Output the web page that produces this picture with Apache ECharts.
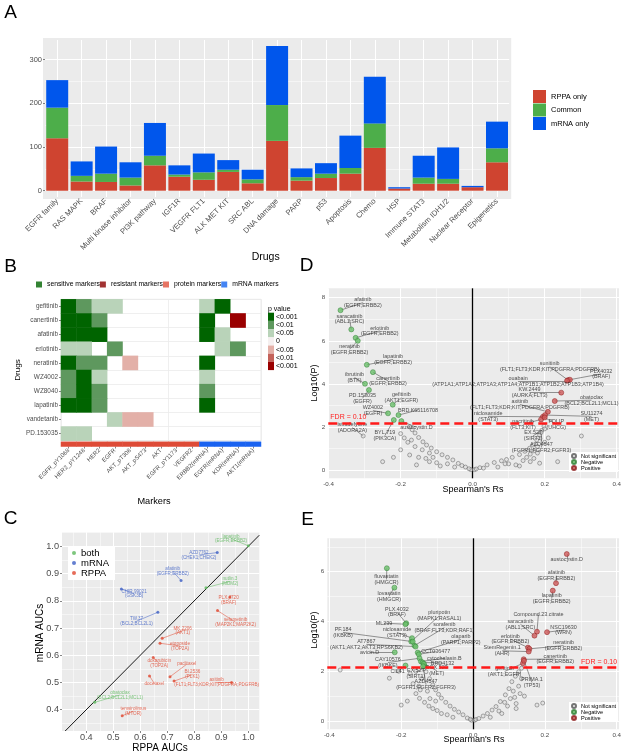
<!DOCTYPE html>
<html><head><meta charset="utf-8">
<script src="https://cdn.jsdelivr.net/npm/echarts@6/dist/echarts.min.js"></script>
<style>html,body{margin:0;padding:0;background:#fff}#c{width:624px;height:755px}</style>
</head><body><div id="c"></div>
<script>
// ---------- Panel A data ----------
const drugClasses = ['EGFR family','RAS MAPK','BRAF','Multi kinase inhibitor','PI3K pathway','IGF1R','VEGFR FLT1','ALK MET KIT','SRC ABL','DNA damage','PARP','p53','Apoptosis','Chemo','HSP','Immune STAT3','Metabolism IDH1/2','Nuclear Receptor','Epigenetics'];
const rppaOnly = [120,21,20,12,58,32,25,43,17,114,23,29,39,98,5,16,16,8,65];
const commonCount = [70,13,19,18,22,5,17,5,9,82,8,10,13,56,0,14,11,0,32];
const mrnaOnly = [63,33,62,35,75,21,43,22,22,135,20,24,74,107,3,50,72,3,61];
const yTicksA = [0,100,200,300];
const yMinorA = [50,150,250];

// ---------- Panel B data ----------
const markers = ['EGFR_pY1068','HER2_pY1248','HER2','EGFR','AKT_pT308','AKT_pS473','AKT','EGFR_pY1173','VEGFR2','ERBB2(mRNA)','EGFR(mRNA)','KDR(mRNA)','AKT1(mRNA)'];
const markerType = [0,0,0,0,0,0,0,0,0,1,1,1,1]; // 0 protein, 1 mRNA
const heatDrugs = ['gefitinib','canertinib','afatinib','erlotinib','neratinib','WZ4002','WZ8040','lapatinib','vandetanib','PD.153035'];
// 3:<0.001 sensitive, 2:<0.01, 1:<0.05, 0:none, -1..-3 resistant
const heatRows = [
 [3,2,1,1,0,0,0,0,0,1,3,0,0],
 [3,3,2,0,0,0,0,0,0,3,0,-3,0],
 [3,3,3,0,0,0,0,0,0,3,1,0,0],
 [1,1,0,2,0,0,0,0,0,0,1,2,0],
 [3,2,2,0,-1,0,0,0,0,3,0,0,0],
 [2,3,1,0,0,0,0,0,0,1,0,0,0],
 [2,3,2,0,0,0,0,0,0,2,0,0,0],
 [3,3,2,0,0,0,0,0,0,3,0,0,0],
 [0,0,0,1,-1,-1,0,0,0,0,0,0,0],
 [1,1,0,0,0,0,0,0,0,0,0,0,0]
];
const pLabels = ['<0.001','<0.01','<0.05','0','<0.05','<0.01','<0.001'];
const pValues = [3,2,1,0,-1,-2,-3];

// ---------- Panel C data ----------
const bothDrug = ['lapatinib\n(EGFR;ERBB2)','nutlin.3\n(MDM2)','obatoclax\n(BCL2;BCL2L1;MCL1)'];
const bothRPPA = [1.0,0.843,0.431];
const bothMRNA = [1.002,0.848,0.427];
const bothLabelAt = [[0.936,1.028],[0.932,0.871],[0.525,0.454]];
const mrnaDrug = ['AZD7762\n(CHEK1;CHEK2)','afatinib\n(EGFR;ERBB2)','CHIR.99021\n(GSK3B)','TW.37\n(BCL2;BCL2L1)'];
const mrnaRPPA = [0.885,0.751,0.53,0.665];
const mrnaMRNA = [0.977,0.874,0.843,0.758];
const mrnaLabelAt = [[0.817,0.968],[0.72,0.909],[0.577,0.826],[0.586,0.725]];
const rppaDrug = ['PLX.4720\n(BRAF)','selumetinib\n(MAP2K1;MAP2K2)','MK.2206\n(AKT1)','etoposide\n(TOP2A)','doxorubicin\n(TOP2A)','paclitaxel','BI.2536\n(PLK1)','axitinib\n(FLT1;FLT3;KDR;KIT;PDGFRA;PDGFRB)','docetaxel','temsirolimus\n(MTOR)'];
const rppaRPPA = [0.932,0.886,0.681,0.673,0.648,0.71,0.725,0.938,0.634,0.533];
const rppaMRNA = [0.814,0.764,0.662,0.644,0.592,0.521,0.505,0.50,0.524,0.378];
const rppaLabelAt = [[0.927,0.803],[0.953,0.721],[0.757,0.69],[0.747,0.634],[0.67,0.57],[0.772,0.567],[0.793,0.529],[0.883,0.50],[0.652,0.496],[0.574,0.394]];
const cTicks = [0.4,0.5,0.6,0.7,0.8,0.9,1.0];
const cMinor = [0.35,0.45,0.55,0.65,0.75,0.85,0.95,1.05];

// ---------- Panel D data ----------
const dGrey = [[-0.005,0.03],[-0.01,0.07],[-0.02,0.15],[-0.03,0.22],[-0.04,0.32],[-0.055,0.48],[-0.07,0.6],[-0.085,0.72],[-0.1,0.86],[-0.115,1.03],[-0.128,1.17],[-0.138,1.32],[-0.15,1.52],[-0.16,1.73],[-0.168,1.88],[-0.175,2.02],
 [-0.175,0.71],[-0.156,0.25],[-0.15,0.6],[-0.13,0.55],[-0.12,0.4],[-0.1,0.35],[-0.09,0.2],[-0.14,0.95],[-0.16,1.1],[-0.12,0.8],[-0.18,1.3],[-0.19,1.5],[-0.2,0.95],[-0.22,0.6],[-0.25,0.4],[-0.304,1.59],[-0.07,0.3],[-0.05,0.15],[-0.11,0.6],[-0.2,1.7],[-0.17,1.4],
 [0.005,0.03],[0.01,0.06],[0.02,0.12],[0.03,0.1],[0.04,0.25],[0.06,0.36],[0.08,0.44],[0.094,0.5],[0.11,0.6],[0.13,0.73],[0.145,0.88],[0.158,1.02],[0.168,1.17],[0.178,1.4],[0.186,1.63],[0.192,1.85],[0.198,2.05],
 [0.1,0.3],[0.12,0.25],[0.14,0.45],[0.15,0.6],[0.16,0.75],[0.17,0.9],[0.18,1.1],[0.16,0.4],[0.07,0.15],[0.186,0.33],[0.236,0.4],[0.302,1.59],[0.13,0.2],[0.18,0.8],[0.2,1.3],[0.21,1.5],[0.17,0.55],[0.19,1.75],[0.09,0.3],[0.2,1.92]];
const dNegDrug = ['afatinib\n(EGFR;ERBB2)','saracatinib\n(ABL1;SRC)','erlotinib\n(EGFR;ERBB2)','neratinib\n(EGFR;ERBB2)','lapatinib\n(EGFR;ERBB2)','canertinib\n(EGFR;ERBB2)','ibrutinib\n(BTK)','PD.153035\n(EGFR)','gefitinib\n(AKT1;EGFR)','WZ4002\n(EGFR)','BRD.K65116708','BYL.719\n(PIK3CA)','austocystin.D'];
const dNegRs = [-0.367,-0.337,-0.325,-0.319,-0.294,-0.277,-0.299,-0.288,-0.222,-0.235,-0.206,-0.219,-0.198];
const dNegLogP = [7.42,6.53,6.14,6.0,4.89,4.55,4.01,3.72,3.04,2.64,2.56,2.33,2.28];
const dNegLabelAt = [[-0.305,7.77],[-0.342,7.01],[-0.258,6.46],[-0.342,5.61],[-0.221,5.14],[-0.235,4.14],[-0.328,4.30],[-0.306,3.34],[-0.198,3.37],[-0.277,2.77],[-0.152,2.79],[-0.244,1.60],[-0.156,1.99]];
const dPosDrug = ['sunitinib\n(FLT1;FLT3;KDR;KIT;PDGFRA;PDGFRB)','PLX4032\n(BRAF)','ouabain\n(ATP1A1;ATP1A2;ATP1A3;ATP1A4;ATP1B1;ATP1B2;ATP1B3;ATP1B4)','KW.2449\n(AURKA;FLT3)','obatoclax\n(BCL2;BCL2L1;MCL1)','axitinib\n(FLT1;FLT3;KDR;KIT;PDGFRA;PDGFRB)','niclosamide\n(STAT3)','SU11274\n(MET)','pacritinib\n(FLT3;KIT)','PDLIP\n(UHCG)'];
const dPosRs = [0.265,0.27,0.262,0.246,0.228,0.209,0.195,0.201,0.19,0.2];
const dPosLogP = [4.18,4.2,4.15,3.6,3.21,2.71,2.48,2.56,2.36,2.45];
const dPosLabelAt = [[0.214,4.80],[0.357,4.47],[0.126,4.13],[0.158,3.60],[0.33,3.25],[0.131,3.05],[0.043,2.50],[0.33,2.50],[0.14,2.13],[0.232,2.13]];
const dOtherDrug = ['istradefylline\n(ADORA2A)','EX.527\n(SIRT1)','AZD4547\n(FGFR1;FGFR2;FGFR3)'];
const dOtherPt = [[-0.304,1.59],[0.2,1.92],[0.19,1.75]];
const dOtherLabelAt = [[-0.334,1.98],[0.168,1.60],[0.191,1.06]];
const dFDR = 2.2;

// ---------- Panel E data ----------
const eGrey = [[-0.004,0.03],[-0.008,0.07],[-0.016,0.12],[-0.028,0.25],[-0.04,0.36],[-0.052,0.47],[-0.064,0.6],[-0.076,0.75],[-0.088,0.92],[-0.096,1.07],[-0.104,1.25],[-0.112,1.45],[-0.121,1.7],[-0.131,1.98],[-0.137,2.1],
 [-0.149,0.91],[-0.135,0.75],[-0.123,0.6],[-0.112,0.5],[-0.1,0.42],[-0.088,0.3],[-0.072,0.25],[-0.056,0.15],[-0.159,1.1],[-0.151,1.4],[-0.143,1.7],[-0.159,2.0],[-0.167,1.5],[-0.127,1.2],[-0.12,0.9],[-0.104,0.8],[-0.2,0.64],[-0.233,1.72],[-0.37,2.05],[-0.183,0.8],[-0.147,1.25],[-0.175,1.9],[-0.207,2.0],
 [0.004,0.03],[0.008,0.06],[0.016,0.1],[0.028,0.2],[0.04,0.3],[0.053,0.44],[0.064,0.58],[0.076,0.78],[0.09,1.05],[0.1,1.3],[0.108,1.58],[0.118,1.8],[0.127,1.98],[0.135,2.12],
 [0.072,0.4],[0.08,0.3],[0.096,0.6],[0.104,0.9],[0.112,1.2],[0.12,0.7],[0.127,1.4],[0.135,1.7],[0.088,0.75],[0.048,0.15],[0.178,0.64],[0.194,0.72],[0.143,1.0],[0.12,0.5],[0.131,1.1],[0.116,0.95]];
const eNegDrug = ['fluvastatin\n(HMGCR)','lovastatin\n(HMGCR)','PLX.4032\n(BRAF)','ML239','pluripotin\n(MAPK1;RASAL1)','sorafenib\n(BRAF;FLT3;KDR;RAF1)','niclosamide\n(STAT3)','PF.184\n(IKBKB)','AT7867\n(AKT1;AKT2;AKT3;RPS6KB2)','olaparib\n(PARP1;PARP2)','CCT036477','avicin.D','CAY10576\n(IKBKE)','cytochalasin.B','BRD4132','CIL41','EX.527\n(SIRT1)','SGX.523\n(MET)','AZD4547\n(FGFR1;FGFR2;FGFR3)'];
const eNegRs = [-0.24,-0.219,-0.186,-0.188,-0.172,-0.163,-0.17,-0.168,-0.16,-0.154,-0.151,-0.218,-0.149,-0.145,-0.14,-0.188,-0.135,-0.137,-0.139];
const eNegLogP = [6.14,5.36,3.93,3.89,3.19,3.03,3.33,3.19,2.99,2.75,2.68,2.76,2.52,2.39,2.35,2.23,2.22,2.3,2.2];
const eNegLabelAt = [[-0.241,5.69],[-0.234,5.01],[-0.212,4.38],[-0.248,3.93],[-0.094,4.23],[-0.08,3.75],[-0.212,3.56],[-0.362,3.56],[-0.297,3.08],[-0.034,3.28],[-0.104,2.79],[-0.288,2.75],[-0.237,2.35],[-0.08,2.52],[-0.085,2.33],[-0.21,1.98],[-0.159,1.91],[-0.101,2.02],[-0.131,1.46]];
const ePosDrug = ['austocystin.D','afatinib\n(EGFR;ERBB2)','lapatinib\n(EGFR;ERBB2)','Compound.23.citrate','saracatinib\n(ABL1;SRC)','NSC19630\n(WRN)','erlotinib\n(EGFR;ERBB2)','neratinib\n(EGFR;ERBB2)','StemRegenin.1\n(AHR)','canertinib\n(EGFR;ERBB2)','gefitinib\n(AKT1;EGFR)','PRIMA.1\n(TP53)'];
const ePosRs = [0.261,0.231,0.222,0.178,0.171,0.206,0.153,0.157,0.155,0.141,0.139,0.142];
const ePosLogP = [6.71,5.54,5.24,3.59,3.43,3.57,2.95,2.9,2.79,2.48,2.32,2.42];
const ePosLabelAt = [[0.261,6.51],[0.232,5.84],[0.219,4.92],[0.182,4.27],[0.132,3.89],[0.252,3.65],[0.104,3.29],[0.252,3.03],[0.081,2.82],[0.229,2.49],[0.088,1.99],[0.164,1.55]];
const eFDR = 2.16;

// ---------- build ----------
const FONT = '"Liberation Sans", Arial, Helvetica, sans-serif';
const GREY_TXT = '#4D4D4D';
const zip = (a,b) => a.map((v,i)=>[v,b[i]]);

function gridLineSeries(xi, yi, xMajor, xMinor, yMajor, yMinor) {
  const d = [];
  xMajor.forEach(v => d.push({xAxis: v, lineStyle:{width:1}}));
  xMinor.forEach(v => d.push({xAxis: v, lineStyle:{width:0.5}}));
  yMajor.forEach(v => d.push({yAxis: v, lineStyle:{width:1}}));
  yMinor.forEach(v => d.push({yAxis: v, lineStyle:{width:0.5}}));
  return {type:'line', xAxisIndex:xi, yAxisIndex:yi, data:[], silent:true, z:1,
    markLine:{silent:true, z:1, symbol:['none','none'], animation:false, label:{show:false},
      lineStyle:{color:'#FFFFFF', type:'solid'}, data:d}};
}
function labelSeries(xi, yi, texts, pos, color, fs) {
  return {type:'scatter', xAxisIndex:xi, yAxisIndex:yi, symbolSize:0.1, silent:true, z:6, animation:false,
    itemStyle:{color:'rgba(0,0,0,0)'},
    data: texts.map((t,i)=>({value:pos[i], name:t})),
    label:{show:true, position:'inside', formatter:p=>p.name, fontSize:fs, lineHeight:fs*1.05, color:color, fontFamily:FONT}};
}
function segSeries(xi, yi, pts, pos, color) {
  return {type:'lines', coordinateSystem:'cartesian2d', xAxisIndex:xi, yAxisIndex:yi, silent:true, z:3, animation:false,
    lineStyle:{color:color, width:0.5, opacity:1},
    data: pts.map((p,i)=>({coords:[p, pos[i]]}))};
}
function valAxis(gi, min, max, ticks, fmt, fs, margin) {
  return {gridIndex:gi, type:'value', min:min, max:max, axisLine:{show:false},
    axisTick:{show:true, length:2, customValues:ticks, lineStyle:{color:'#333', width:0.6}},
    axisLabel:{customValues:ticks, fontSize:fs, color:GREY_TXT, margin:(margin==null?3:margin), fontFamily:FONT, formatter:fmt},
    splitLine:{show:false}};
}

const cXmin = 0.31, cXmax = 1.0407, cYmin = 0.3218, cYmax = 1.0514;

const series = [];
// A
series.push(gridLineSeries(0,0, drugClasses, [], yTicksA, yMinorA));
series.push({name:'RPPA only', type:'bar', stack:'A', xAxisIndex:0, yAxisIndex:0, data:rppaOnly, itemStyle:{color:'#CF4430'}, barCategoryGap:'10%', z:2});
series.push({name:'Common', type:'bar', stack:'A', xAxisIndex:0, yAxisIndex:0, data:commonCount, itemStyle:{color:'#4DAE4A'}, z:2});
series.push({name:'mRNA only', type:'bar', stack:'A', xAxisIndex:0, yAxisIndex:0, data:mrnaOnly, itemStyle:{color:'#0056EC'}, z:2});
// B
const heatData = [];
heatRows.forEach((row, yi) => row.forEach((v, xi) => { if (v !== 0) heatData.push([xi, yi, v]); }));
const heatIdx = series.length;
series.push({type:'heatmap', xAxisIndex:1, yAxisIndex:1, data:heatData, emphasis:{disabled:true}, silent:true});
const annIdx = series.length;
series.push({type:'heatmap', xAxisIndex:2, yAxisIndex:2, data:markerType.map((t,i)=>[i,0,t]), emphasis:{disabled:true}, silent:true});
[['sensitive markers','#006400'],['resistant markers','#8B0000'],['protein markers','#E0533D'],['mRNA markers','#1565F0']].forEach(([n,c]) => {
  series.push({name:n, type:'scatter', xAxisIndex:1, yAxisIndex:1, data:[], itemStyle:{color:c}});
});
// C
series.push(gridLineSeries(3,3, cTicks, cMinor, cTicks, cMinor));
const dLo = Math.max(cXmin,cYmin), dHi = Math.min(cXmax,cYmax);
series.push({type:'line', xAxisIndex:3, yAxisIndex:3, data:[], silent:true, markLine:{silent:true, z:2, symbol:['none','none'], animation:false, label:{show:false}, lineStyle:{color:'#000', width:0.9, type:'solid'}, data:[[{coord:[dLo,dLo]},{coord:[dHi,dHi]}]]}});
const cGreen = '#5CB85C', cBlue = '#3D5FC4', cRed = '#E0472F';
series.push(segSeries(3,3, zip(bothRPPA,bothMRNA), bothLabelAt, cGreen));
series.push(segSeries(3,3, zip(mrnaRPPA,mrnaMRNA), mrnaLabelAt, cBlue));
series.push(segSeries(3,3, zip(rppaRPPA,rppaMRNA), rppaLabelAt, cRed));
series.push({name:'both', type:'scatter', xAxisIndex:3, yAxisIndex:3, data:zip(bothRPPA,bothMRNA), symbolSize:3, itemStyle:{color:cGreen}, z:4});
series.push({name:'mRNA', type:'scatter', xAxisIndex:3, yAxisIndex:3, data:zip(mrnaRPPA,mrnaMRNA), symbolSize:3, itemStyle:{color:cBlue}, z:4});
series.push({name:'RPPA', type:'scatter', xAxisIndex:3, yAxisIndex:3, data:zip(rppaRPPA,rppaMRNA), symbolSize:3, itemStyle:{color:cRed}, z:4});
series.push(labelSeries(3,3, bothDrug, bothLabelAt, cGreen, 4.6));
series.push(labelSeries(3,3, mrnaDrug, mrnaLabelAt, cBlue, 4.6));
series.push(labelSeries(3,3, rppaDrug, rppaLabelAt, cRed, 4.6));
// D & E
const greyStyle = {color:'rgba(215,215,215,0.6)', borderColor:'#555', borderWidth:0.6};
const negStyle = {color:'#6CC16C', borderColor:'#2E7D32', borderWidth:0.6};
const posStyle = {color:'#CF5A5A', borderColor:'#8B1A1A', borderWidth:0.6};
function volcano(ai, xMaj, xMin, yMaj, yMin, grey, negX, negY, negNames, negAt, posX, posY, posNames, posAt, otherPts, otherNames, otherAt, fdr, fdrPos) {
  series.push(gridLineSeries(ai,ai, xMaj, xMin, yMaj, yMin));
  series.push({type:'line', xAxisIndex:ai, yAxisIndex:ai, data:[], silent:true, markLine:{silent:true, z:2, symbol:['none','none'], animation:false, label:{show:false}, lineStyle:{color:'#000', width:1.3, type:'solid'}, data:[{xAxis:0}]}});
  const negPts = zip(negX,negY), posPts = zip(posX,posY);
  series.push(segSeries(ai,ai, negPts, negAt, '#333'));
  series.push(segSeries(ai,ai, posPts, posAt, '#333'));
  if (otherPts.length) series.push(segSeries(ai,ai, otherPts, otherAt, '#333'));
  series.push({name:'Not significant', type:'scatter', xAxisIndex:ai, yAxisIndex:ai, data:grey, symbolSize:4, itemStyle:greyStyle, z:4});
  series.push({name:'Negative', type:'scatter', xAxisIndex:ai, yAxisIndex:ai, data:negPts, symbolSize:5, itemStyle:negStyle, z:4});
  series.push({name:'Positive', type:'scatter', xAxisIndex:ai, yAxisIndex:ai, data:posPts, symbolSize:5, itemStyle:posStyle, z:4});
  series.push(labelSeries(ai,ai, negNames, negAt, '#222', 5.4));
  series.push(labelSeries(ai,ai, posNames, posAt, '#222', 5.4));
  if (otherPts.length) series.push(labelSeries(ai,ai, otherNames, otherAt, '#222', 5.4));
  series.push({type:'line', xAxisIndex:ai, yAxisIndex:ai, data:[], silent:true, markLine:{silent:true, z:7, symbol:['none','none'], animation:false,
    label:{show:true, position:fdrPos, formatter:'FDR = 0.10', color:'#FF2020', fontSize:7, fontFamily:FONT, distance:2},
    lineStyle:{color:'#FF1A1A', width:2.6, type:[9,5]}, data:[{yAxis:fdr}]}});
}
const volX = [-0.4,-0.2,0,0.2,0.4], volXm = [-0.3,-0.1,0.1,0.3];
volcano(4, volX, volXm, [0,2,4,6,8], [1,3,5,7], dGrey,
  dNegRs, dNegLogP, dNegDrug, dNegLabelAt, dPosRs, dPosLogP, dPosDrug, dPosLabelAt, dOtherPt, dOtherDrug, dOtherLabelAt, dFDR, 'insideStartTop');
volcano(5, volX, volXm, [0,2,4,6], [1,3,5,7], eGrey,
  eNegRs, eNegLogP, eNegDrug, eNegLabelAt, ePosRs, ePosLogP, ePosDrug, ePosLabelAt, [], [], [], eFDR, 'insideEndTop');

const option = {
  animation:false,
  textStyle:{fontFamily:FONT},
  grid:[
    {left:45, right:114.8, top:40, bottom:558, show:true, backgroundColor:'#EBEBEB', borderColor:'#EBEBEB', borderWidth:4},
    {left:61, right:363, top:299.3, bottom:314.3, show:true, backgroundColor:'#FFFFFF', borderColor:'#E6E6E6', borderWidth:0.8},
    {left:61, right:363, top:441.8, bottom:308.5},
    {left:62, right:364.7, top:532.3, bottom:24, show:true, backgroundColor:'#EBEBEB', borderWidth:0},
    {left:328.3, right:5, top:288.3, bottom:276.7, show:true, backgroundColor:'#EBEBEB', borderWidth:0},
    {left:327.3, right:3, top:538.3, bottom:25.7, show:true, backgroundColor:'#EBEBEB', borderWidth:0}
  ],
  xAxis:[
    {gridIndex:0, type:'category', data:drugClasses, axisLine:{show:false},
      axisTick:{show:true, alignWithLabel:true, length:2, lineStyle:{color:'#333', width:0.6}},
      axisLabel:{rotate:45, interval:0, fontSize:7.6, color:GREY_TXT, margin:3, fontFamily:FONT}, splitLine:{show:false}},
    {gridIndex:1, type:'category', data:markers, axisLine:{show:false}, axisTick:{show:false}, axisLabel:{show:false},
      splitLine:{show:true, lineStyle:{color:'#EBEBEB', width:0.8}}},
    {gridIndex:2, type:'category', data:markers, axisLine:{show:false},
      axisTick:{show:true, alignWithLabel:true, length:2, lineStyle:{color:'#333', width:0.6}},
      axisLabel:{rotate:45, interval:0, fontSize:6, color:GREY_TXT, margin:3, fontFamily:FONT}},
    valAxis(3, cXmin, cXmax, cTicks, v=>v.toFixed(1), 9.2, 2),
    valAxis(4, -0.4009, 0.4064, volX, v=>v.toFixed(1), 6.2),
    valAxis(5, -0.4058, 0.4066, volX, v=>v.toFixed(1), 6.2)
  ],
  yAxis:[
    valAxis(0, -14.4, 344.8, yTicksA, v=>String(v), 7.5),
    {gridIndex:1, type:'category', data:heatDrugs, inverse:true, axisLine:{show:false},
      axisTick:{show:true, alignWithLabel:true, length:2, lineStyle:{color:'#333', width:0.6}},
      axisLabel:{fontSize:6.4, color:GREY_TXT, margin:3, fontFamily:FONT},
      splitLine:{show:true, lineStyle:{color:'#EBEBEB', width:0.8}}},
    {gridIndex:2, type:'category', data:['type'], show:false},
    valAxis(3, cYmin, cYmax, cTicks, v=>v.toFixed(1), 9.2),
    valAxis(4, -0.371, 8.436, [0,2,4,6,8], v=>String(v), 6.2),
    valAxis(5, -0.334, 7.343, [0,2,4,6], v=>String(v), 6.2)
  ],
  visualMap:[
    {type:'piecewise', seriesIndex:heatIdx, dimension:2, orient:'vertical', left:268, top:312.7,
      itemWidth:6, itemHeight:8.2, itemGap:0, itemSymbol:'rect', textGap:2, selectedMode:false, padding:0,
      textStyle:{fontSize:7, color:'#000', fontFamily:FONT},
      pieces: pValues.map((v,i)=>({value:v, label:pLabels[i], color:['#006400','#5E985E','#B9D3B9','#F5F0F0','#E3B0A8','#C4625A','#9A0000'][i]}))},
    {type:'piecewise', show:false, seriesIndex:annIdx, dimension:2,
      pieces:[{value:0, color:'#DE4B37'},{value:1, color:'#1A63F0'}]}
  ],
  legend:[
    {data:['RPPA only','Common','mRNA only'], orient:'vertical', left:533, top:90, icon:'rect', itemWidth:13, itemHeight:13, itemGap:0.5, selectedMode:false, padding:0,
      textStyle:{fontSize:7.5, color:'#000', fontFamily:FONT}},
    {data:['sensitive markers','resistant markers','protein markers','mRNA markers'], orient:'horizontal', left:36, top:281, icon:'rect', itemWidth:6, itemHeight:6, itemGap:0, selectedMode:false, padding:0,
      textStyle:{fontSize:6.8, color:'#000', fontFamily:FONT}},
    {data:['both','mRNA','RPPA'], orient:'vertical', left:68, top:546, icon:'circle', itemWidth:4, itemHeight:4, itemGap:0, selectedMode:false, padding:[2,6,2,4],
      backgroundColor:'#FFFFFF', textStyle:{fontSize:9.5, lineHeight:10, color:'#000', fontFamily:FONT}},
    {data:['Not significant','Negative','Positive'], orient:'vertical', left:569, top:452, icon:'circle', itemWidth:4, itemHeight:4, itemGap:0, selectedMode:false, padding:[1,2,1,2],
      backgroundColor:'#FFFFFF', textStyle:{fontSize:5.6, lineHeight:5, color:'#000', fontFamily:FONT}},
    {data:['Not significant','Negative','Positive'], orient:'vertical', left:569, top:702, icon:'circle', itemWidth:4, itemHeight:4, itemGap:0, selectedMode:false, padding:[1,2,1,2],
      backgroundColor:'#FFFFFF', textStyle:{fontSize:5.6, lineHeight:5, color:'#000', fontFamily:FONT}}
  ],
  graphic:[],
  series: series
};

const texts = [
  ['A',10.5,13,19,0],['B',10.5,266.5,19,0],['C',10.5,519,19,0],['D',306.5,266,19,0],['E',307.5,520,19,0],
  ['Drugs',265.7,256.7,10.5,0],['Drugs',18,370,8,1],['Markers',154,501,9.2,0],
  ['RPPA AUCs',160,748.5,10,0],['mRNA AUCs',40,633,10,1],
  ['Log10(P)',315,383,9,1],['Spearman\'s Rs',473,489.3,9,0],
  ['Log10(P)',315,630,9,1],['Spearman\'s Rs',474,740,9,0]
];
option.graphic = texts.map(([t,x,y,s,r]) => ({type:'text', x:x, y:y, rotation: r ? Math.PI/2 : 0, silent:true,
  style:{text:t, x:0, y:0, textAlign:'center', textVerticalAlign:'middle', fill:'#000', font: s + 'px ' + FONT}}));
option.graphic.push({type:'text', x:268, y:309, silent:true, style:{text:'p value', textAlign:'left', textVerticalAlign:'middle', fill:'#000', font:'7px ' + FONT}});

const chart = echarts.init(document.getElementById('c'), null, {renderer:'canvas', width:624, height:755});
chart.setOption(option);
</script></body></html>
